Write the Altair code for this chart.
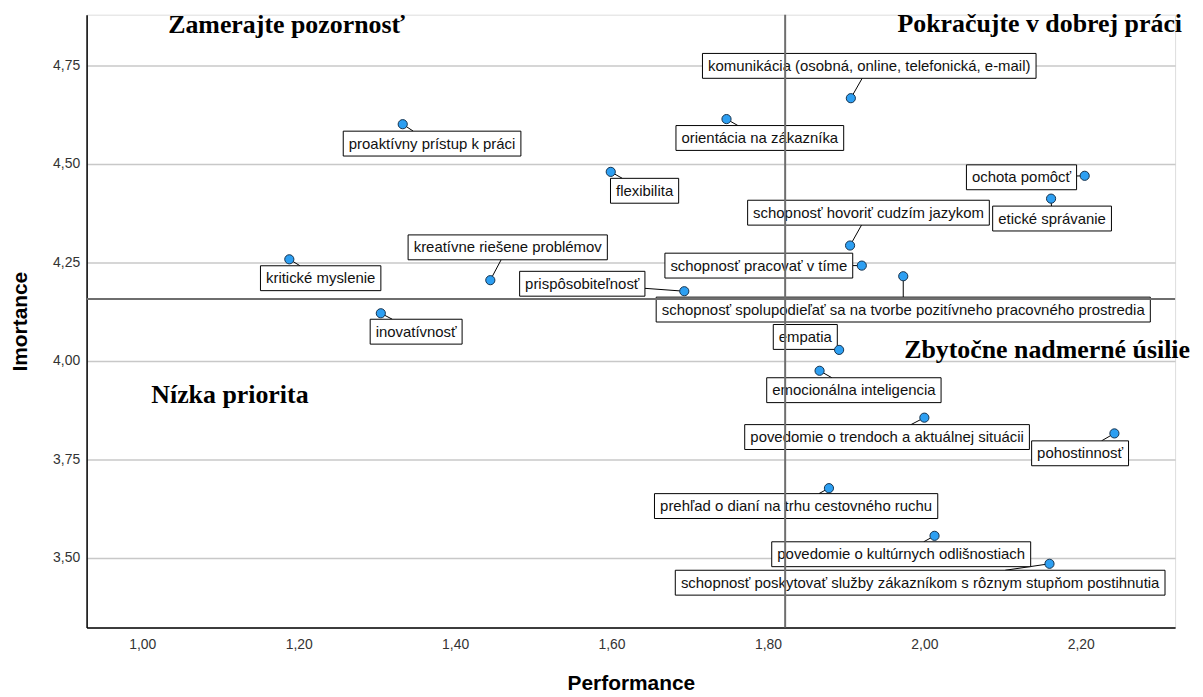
import altair as alt
import pandas as pd

# ---------------- data ----------------
skills = [
    "komunikácia (osobná, online, telefonická, e-mail)",
    "orientácia na zákazníka",
    "proaktívny prístup k práci",
    "flexibilita",
    "ochota pomôcť",
    "etické správanie",
    "schopnosť hovoriť cudzím jazykom",
    "schopnosť pracovať v tíme",
    "kritické myslenie",
    "kreatívne riešene problémov",
    "prispôsobiteľnosť",
    "schopnosť spolupodieľať sa na tvorbe pozitívneho pracovného prostredia",
    "inovatívnosť",
    "empatia",
    "emocionálna inteligencia",
    "povedomie o trendoch a aktuálnej situácii",
    "pohostinnosť",
    "prehľad o dianí na trhu cestovného ruchu",
    "povedomie o kultúrnych odlišnostiach",
    "schopnosť poskytovať služby zákazníkom s rôznym stupňom postihnutia",
]
performance = [1.906, 1.747, 1.333, 1.599, 2.205, 2.162, 1.905, 1.920, 1.188, 1.445,
               1.693, 1.973, 1.305, 1.891, 1.866, 2.000, 2.243, 1.878, 2.013, 2.160]
importance = [4.667, 4.614, 4.601, 4.480, 4.470, 4.412, 4.293, 4.242, 4.258, 4.205,
              4.177, 4.215, 4.121, 4.028, 3.975, 3.856, 3.816, 3.677, 3.556, 3.485]

# reference lines (means)
ref_performance = [1.822]
ref_importance = [4.157]

x_ticks = [1.0, 1.2, 1.4, 1.6, 1.8, 2.0, 2.2]
y_ticks = [3.5, 3.75, 4.0, 4.25, 4.5, 4.75]

quadrant_text = ["Zamerajte pozornosť", "Pokračujte v dobrej práci", "Nízka priorita", "Zbytočne nadmerné úsilie"]
quadrant_x = [1.1845, 2.3295, 1.0115, 2.3397]
quadrant_y = [4.8333, 4.8359, 3.894, 4.0076]
quadrant_align = ["center", "right", "left", "right"]

# ---------------- layout (label box offsets from the point, in px) ----------------
label_dx = [18.5, 33.5, 29.5, 34, -63.5, 1, 18.5, -103.5, 31.5, 17.5,
            -102.5, 0, 35.5, -34, 34.5, -37.5, -34.5, -33, -33.5, -130]
label_dy = [-32.5, 19, 19.5, 19, 1.5, 20, -33, 0, 19, -33,
            -7.5, 33.5, 18.5, -13, 19.5, 19.5, 20, 18, 18.5, 19]

W, H = 1094, 616
X_DOM = [0.9288, 2.3206]
Y_DOM = [3.323, 4.879]
PX_X = W / (X_DOM[1] - X_DOM[0])
PX_Y = H / (Y_DOM[1] - Y_DOM[0])
LABEL_SIZE = 15
BOX_PAD = 5.5
BOX_HALF_H = 12.5

ARIAL = {
    " ": 278, "(": 333, ")": 333, ",": 278, "-": 333, ".": 278,
    "a": 556, "b": 556, "c": 500, "d": 556, "e": 556, "f": 278, "g": 556, "h": 556,
    "i": 222, "j": 222, "k": 500, "l": 222, "m": 833, "n": 556, "o": 556, "p": 556,
    "q": 556, "r": 333, "s": 500, "t": 278, "u": 556, "v": 500, "w": 722, "x": 500,
    "y": 500, "z": 500, "á": 556, "é": 556, "í": 278, "ó": 556, "ô": 556, "ú": 556,
    "ý": 500, "č": 500, "š": 500, "ž": 500, "ň": 556, "ť": 367, "ľ": 292, "ď": 615,
}


def text_width(s):
    return sum(ARIAL.get(ch, 556) for ch in s) / 1000.0 * LABEL_SIZE


rows = []
for name, xv, yv, dx, dy in zip(skills, performance, importance, label_dx, label_dy):
    hw = text_width(name) / 2 + BOX_PAD
    hh = BOX_HALF_H
    # leader: from point toward box centre, clipped at box edge (pixel space)
    tx = []
    for d, h in ((dx, hw), (dy, hh)):
        if d == 0:
            tx.append(-1e9)
        else:
            t1 = (d - h) / d
            t2 = (d + h) / d
            tx.append(min(t1, t2))
    t = max(0.0, min(1.0, max(tx)))
    lx = xv + dx / PX_X
    ly = yv - dy / PX_Y
    rows.append({
        "skill": name, "perf": xv, "imp": yv,
        "lx": lx, "ly": ly,
        "bx1": lx - hw / PX_X, "bx2": lx + hw / PX_X,
        "by1": ly - hh / PX_Y, "by2": ly + hh / PX_Y,
        "ex": xv + t * dx / PX_X, "ey": yv - t * dy / PX_Y,
    })
df = pd.DataFrame(rows)

qdf = pd.DataFrame({"t": quadrant_text, "x": quadrant_x, "y": quadrant_y, "a": quadrant_align})

xs = alt.Scale(domain=X_DOM, nice=False, zero=False)
ys = alt.Scale(domain=Y_DOM, nice=False, zero=False)
LABEL_EXPR = "replace(format(datum.value, '.2f'), '.', ',')"
xaxis = alt.Axis(values=x_ticks, labelExpr=LABEL_EXPR, grid=False, ticks=False, tickSize=0,
                 domainColor="#000000", domainWidth=1.5,
                 labelFont="Liberation Sans", labelFontSize=14, labelColor="#333333", labelPadding=10,
                 title="Performance", titleFont="Liberation Sans", titleFontSize=21,
                 titleFontWeight="bold", titleColor="#000000", titleY=56, titleBaseline="middle")
yaxis = alt.Axis(values=y_ticks, labelExpr=LABEL_EXPR, grid=True, gridColor="#c8c8c8", gridWidth=1.5,
                 ticks=False, tickSize=0, domainColor="#000000", domainWidth=1.5,
                 labelFont="Liberation Sans", labelFontSize=14, labelColor="#333333", labelPadding=7,
                 title="Imortance", titleFont="Liberation Sans", titleFontSize=21,
                 titleFontWeight="bold", titleColor="#000000", titleX=-66, titleY=H / 2,
                 titleAngle=270, titleAlign="center", titleBaseline="middle")


def X(f):
    return alt.X(f, type="quantitative", scale=xs, axis=xaxis)


def Y(f):
    return alt.Y(f, type="quantitative", scale=ys, axis=yaxis)


base = alt.Chart(df)

leaders = base.mark_rule(color="#000000", strokeWidth=1).encode(
    x=X("perf"), y=Y("imp"), x2="ex", y2="ey")

boxes = base.mark_rect(fill="white", stroke="#000000", strokeWidth=1).encode(
    x=X("bx1"), x2="bx2", y=Y("by1"), y2="by2")

labels = base.mark_text(font="Liberation Sans", fontSize=LABEL_SIZE, color="#111111",
                        align="center", baseline="middle").encode(
    x=X("lx"), y=Y("ly"), text="skill:N")

vref = alt.Chart(pd.DataFrame({"v": ref_performance})).mark_rule(
    color="#6e6e6e", strokeWidth=2).encode(x=X("v"))
href = alt.Chart(pd.DataFrame({"v": ref_importance})).mark_rule(
    color="#6e6e6e", strokeWidth=2).encode(y=Y("v"))

points = base.mark_point(shape="circle", filled=True, size=85, fill="#2d9ff2",
                         stroke="#17324d", strokeWidth=1, opacity=1).encode(
    x=X("perf"), y=Y("imp"))

layers = [leaders, boxes, labels, vref, href, points]
for align in ["left", "center", "right"]:
    layers.append(
        alt.Chart(qdf[qdf["a"] == align]).mark_text(
            font="Liberation Serif", fontSize=26, fontWeight="bold", color="#000000",
            align=align, baseline="alphabetic").encode(x=X("x"), y=Y("y"), text="t:N")
    )

chart = alt.layer(*layers).properties(
    width=W, height=H,
    autosize=alt.AutoSizeParams(type="none"),
    padding={"left": 79, "top": 5, "right": 20, "bottom": 64},
).configure_view(stroke=None).configure(background="white")

chart.save("out.html", embed_options={"renderer": "svg", "actions": False})
